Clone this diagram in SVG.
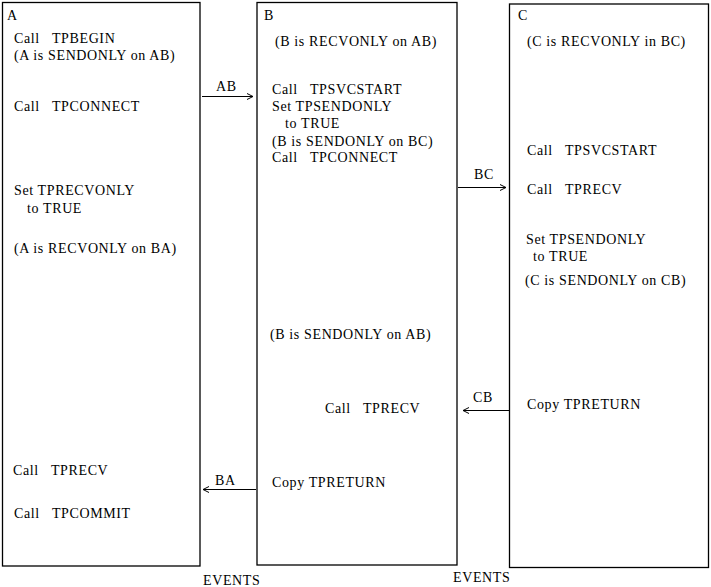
<svg xmlns="http://www.w3.org/2000/svg" width="711" height="587" viewBox="0 0 711 587">
<style>
text { font-family: "Liberation Serif", "Times New Roman", serif; font-size: 14px; fill: #000; white-space: pre; letter-spacing: 0.62px; }
.box { fill: #fff; stroke: #000; stroke-width: 1.3; }
.conn { stroke: #000; stroke-width: 1; fill: none; }
</style>
<defs>
<marker id="arr" markerWidth="8" markerHeight="8" refX="6" refY="4" orient="auto" markerUnits="userSpaceOnUse">
<path d="M0,1 L6,4 L0,7" fill="none" stroke="#000" stroke-width="1"/>
</marker>
</defs>
<rect width="711" height="587" fill="#fff"/>
<g id="node-A">
<rect class="box" x="2.5" y="2.5" width="197.5" height="563.5"/>
<text x="7" y="20">A</text>
<text x="14" y="43">Call   TPBEGIN</text>
<text x="14" y="60">(A is SENDONLY on AB)</text>
<text x="14" y="111">Call   TPCONNECT</text>
<text x="14" y="195">Set TPRECVONLY</text>
<text x="27" y="213">to TRUE</text>
<text x="14" y="253">(A is RECVONLY on BA)</text>
<text x="13" y="475">Call   TPRECV</text>
<text x="14" y="518">Call   TPCOMMIT</text>
</g>
<g id="node-B">
<rect class="box" x="257" y="2.5" width="200" height="562.5"/>
<text x="264" y="20">B</text>
<text x="275" y="46">(B is RECVONLY on AB)</text>
<text x="272" y="94">Call   TPSVCSTART</text>
<text x="272" y="111">Set TPSENDONLY</text>
<text x="285" y="128">to TRUE</text>
<text x="272" y="146">(B is SENDONLY on BC)</text>
<text x="272" y="162">Call   TPCONNECT</text>
<text x="270" y="339">(B is SENDONLY on AB)</text>
<text x="325" y="413">Call   TPRECV</text>
<text x="272" y="487">Copy TPRETURN</text>
</g>
<g id="node-C">
<rect class="box" x="509.5" y="4" width="199" height="563.5"/>
<text x="518" y="20">C</text>
<text x="527" y="46">(C is RECVONLY in BC)</text>
<text x="527" y="155">Call   TPSVCSTART</text>
<text x="527" y="194">Call   TPRECV</text>
<text x="526" y="244">Set TPSENDONLY</text>
<text x="533" y="261">to TRUE</text>
<text x="525" y="285">(C is SENDONLY on CB)</text>
<text x="527" y="409">Copy TPRETURN</text>
</g>
<g id="connectors">
<line class="conn" x1="202" y1="96.5" x2="253" y2="96.5" marker-end="url(#arr)"/>
<text x="216" y="91">AB</text>
<line class="conn" x1="458" y1="187.5" x2="506" y2="187.5" marker-end="url(#arr)"/>
<text x="474" y="179">BC</text>
<line class="conn" x1="509" y1="410.5" x2="463" y2="410.5" marker-end="url(#arr)"/>
<text x="473" y="402">CB</text>
<line class="conn" x1="256" y1="489.5" x2="203" y2="489.5" marker-end="url(#arr)"/>
<text x="215" y="485">BA</text>
</g>
<g id="labels">
<text x="203" y="585">EVENTS</text>
<text x="453" y="582">EVENTS</text>
</g>
</svg>
